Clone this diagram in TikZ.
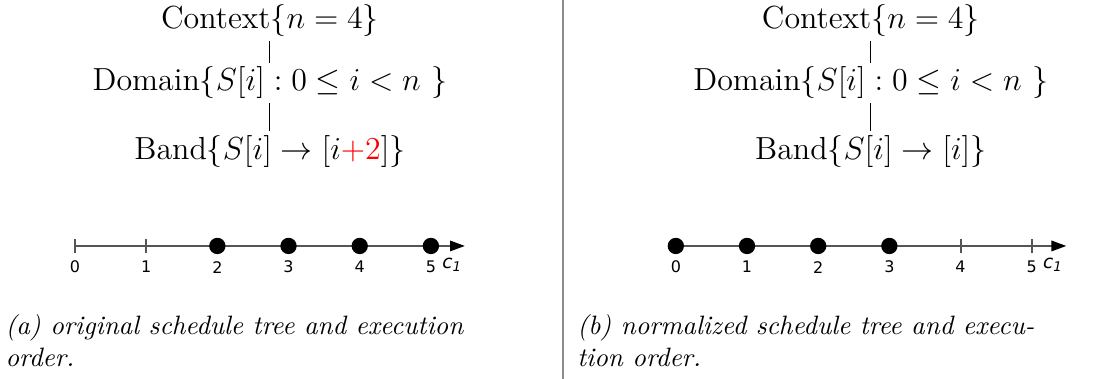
\documentclass[tikz,border=0pt]{standalone}
\usepackage{fontspec}
\newfontfamily\axisfont{DejaVu Sans}
\usetikzlibrary{arrows.meta,positioning}
\definecolor{AxisGray}{HTML}{555555}
\definecolor{RuleGray}{HTML}{8C8C8C}

\begin{document}
\begin{tikzpicture}[x=1cm,y=1cm,>={Triangle[length=5.6pt,width=3.9pt,color=black]},
tree/.style={font=\fontsize{12}{14}\selectfont,inner sep=1.5pt},
captext/.style={align=left,inner sep=0pt,anchor=west,font=\itshape},
num/.style={font=\axisfont\fontsize{6}{7}\selectfont,inner sep=1pt}]
\useasboundingbox(0,0)rectangle(14.68,5.007);
\draw[RuleGray,line width=.5pt](7.437,0)--(7.437,5.007);
% (a) original tree
\node[tree](ctxA)at(3.567,4.735){Context$\{n=4\}$};
\node[tree](domA)at(3.567,3.910){Domain$\{S[i] : 0\leq i<n\ \}$};
\node[tree](bandA)at(3.567,3.000){Band$\{S[i]\rightarrow[i{\color{red}+2}]\}$};
\draw(ctxA)--(domA);
\draw(domA)--(bandA);
% (b) normalized tree
\node[tree](ctxB)at(11.506,4.735){Context$\{n=4\}$};
\node[tree](domB)at(11.506,3.910){Domain$\{S[i] : 0\leq i<n\ \}$};
\node[tree](bandB)at(11.506,3.000){Band$\{S[i]\rightarrow[i]\}$};
\draw(ctxB)--(domB);
\draw(domB)--(bandB);
% execution order lines
\coordinate(oA)at(0.991,1.757);
\coordinate(tipA)at(6.143,1.757);
\coordinate(oB)at(8.930,1.757);
\coordinate(tipB)at(14.09,1.757);
\draw[AxisGray,line width=.75pt,->](oA)--(tipA);
\draw[AxisGray,line width=.75pt,->](oB)--(tipB);
\foreach \o/\s in {oA/A,oB/B}{
\foreach \k in {0,...,5}{
\draw[AxisGray,line width=.75pt]([shift={(\k*0.9405,-0.095)}]\o)--++(0,0.19);
\node[num](l\s\k)at([shift={(\k*0.9405,-0.28)}]\o){\k};}}
\foreach \k in {2,...,5}\fill([shift={(\k*0.9405,0)}]oA)circle(0.108);
\foreach \k in {0,...,3}\fill([shift={(\k*0.9405,0)}]oB)circle(0.108);
\node[num,font=\axisfont\fontsize{7}{8}\selectfont,right=0pt of lA5,yshift=1pt](cA){\itshape c\textsubscript{1}};
\node[num,font=\axisfont\fontsize{7}{8}\selectfont,right=0pt of lB5,yshift=1pt](cB){\itshape c\textsubscript{1}};
% captions
\node[captext](capA)at(0.066,0.502){(a) original schedule tree and execution\\order.};
\node[captext](capB)at(7.622,0.502){(b) normalized schedule tree and execu-\\tion order.};
\end{tikzpicture}
\end{document}
